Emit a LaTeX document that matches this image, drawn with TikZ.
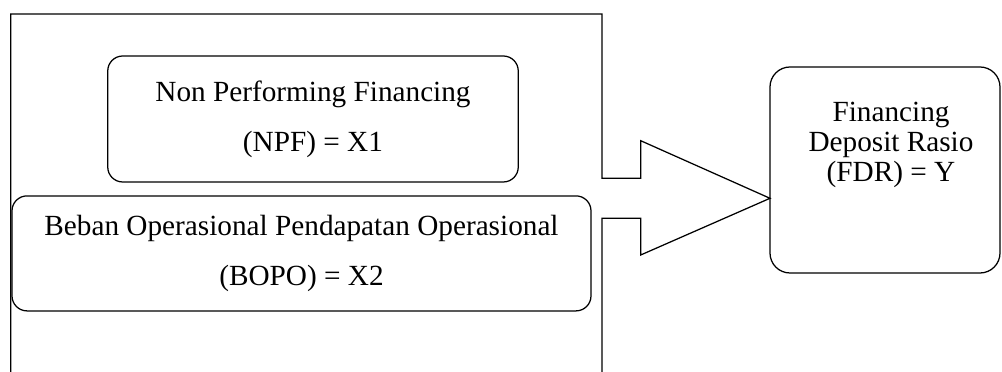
\documentclass[tikz,border=0pt]{standalone}
\usepackage{fontspec}
\setmainfont{Liberation Serif}
\begin{document}
\begin{tikzpicture}[x=0.4pt,y=-0.4pt,line width=0.5pt,
var/.style={draw=black,rounded corners=6pt,inner sep=0pt,align=center,font=\fontsize{11.7}{20}\selectfont,text=black},
dep/.style={draw=black,rounded corners=8pt,minimum width=92pt,minimum height=82.4pt,inner sep=0pt},
lbl/.style={align=center,inner sep=0pt,font=\fontsize{11.7}{12}\selectfont,text=black}
]
\useasboundingbox (0,0) rectangle (1002,372);
% outer frame with the arrow
\draw (10.7,372) -- (10.7,14) -- (602,14) -- (602,178.3) -- (640.7,178.3) -- (640.7,140.7)
  -- (770,198.3) coordinate (tip) -- (640.7,255) -- (640.7,218.3) -- (602,218.3) -- (602,372);
\node[var,minimum width=164.2pt,minimum height=50.4pt] (npf) at (313,119) {Non Performing Financing\\(NPF) = X1};
\node[var,minimum width=231.6pt,minimum height=46pt] (bopo) at (301.5,253.4) {Beban Operasional Pendapatan Operasional\\(BOPO) = X2};
\node[dep] (fdr) at (885,170) {};
\node[lbl] (fdrlbl) at (891,144.5) {Financing\\Deposit Rasio\\(FDR) = Y};
\end{tikzpicture}
\end{document}
